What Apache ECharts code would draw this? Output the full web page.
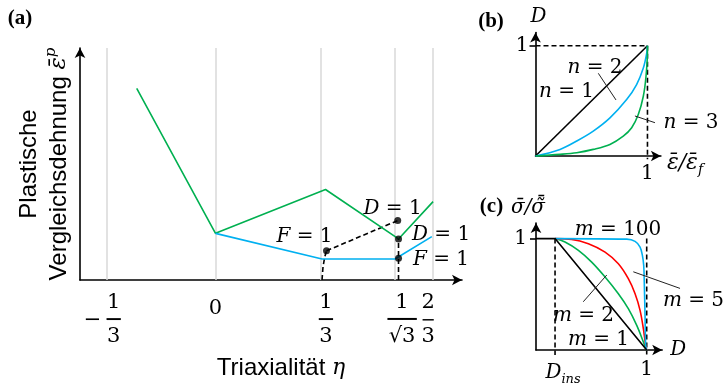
<!DOCTYPE html>
<html>
<head>
<meta charset="utf-8">
<script src="https://cdn.jsdelivr.net/npm/echarts@6/dist/echarts.min.js"></script>
<style>html,body{margin:0;padding:0;background:#fff}#chart{width:727px;height:383px}</style>
</head>
<body>
<div id="chart"></div>
<script>
// (a) Triaxialitaet eta / plastische Vergleichsdehnung (schematisch)
var etaTicks = [-0.339, 0, 0.3334, 0.5556, 0.678];
var greenEta = [-0.2466, 0, 0.3443, 0.5728, 0.681];
var greenEps = [82.6, 20.1, 39.0, 17.7, 33.8];
var blueEta = [0, 0.3334, 0.5618, 0.677];
var blueEps = [20.1, 9.05, 9.05, 18.7];
var pathCurveEta = [0.3334, 0.3365, 0.342, 0.3474];
var pathCurveEps = [0, 5.7, 10.0, 12.6];
var pathLineEta = [0.3474, 0.5703];
var pathLineEps = [12.6, 25.6];
var pathVertEta = [0.5728, 0.5728];
var pathVertEps = [0, 17.7];
var dotsEta = [0.3474, 0.5703, 0.5728, 0.5728];
var dotsEps = [12.6, 25.6, 17.7, 9.4];

// (b) D ueber eps/eps_f
var bN1x = [0, 1];
var bN1 = [0, 1];
var bN2x = [0, 0.219, 0.368, 0.516, 0.665, 0.814, 0.903, 0.963, 0.993, 1];
var bN2 = [0, 0.06, 0.136, 0.226, 0.346, 0.512, 0.648, 0.798, 0.93, 1];
var bN3x = [0, 0.219, 0.368, 0.516, 0.665, 0.784, 0.859, 0.918, 0.963, 0.987, 1, 1];
var bN3 = [0, 0.015, 0.03, 0.06, 0.105, 0.18, 0.256, 0.376, 0.542, 0.723, 0.96, 1];
var bGuideX = [0, 1, 1];
var bGuideY = [1, 1, -0.03];
var bLeadN2x = [0.561, 0.719];
var bLeadN2y = [0.75, 0.508];
var bLeadN3x = [0.888, 1.067];
var bLeadN3y = [0.363, 0.302];

// (c) sigma/sigma~ ueber D
var dIns = 0.172;
var cM1x = [0, 0.172, 1];
var cM1 = [1, 1, 0];
var cM2x = [0.172, 0.262, 0.383, 0.503, 0.624, 0.744, 0.834, 0.91, 0.97, 0.991, 1];
var cM2 = [1, 0.969, 0.894, 0.789, 0.655, 0.505, 0.371, 0.221, 0.072, 0.012, 0];
var cM5x = [0.172, 0.323, 0.473, 0.624, 0.744, 0.834, 0.895, 0.94, 0.97, 0.991, 1];
var cM5 = [1, 0.993, 0.954, 0.879, 0.774, 0.64, 0.505, 0.356, 0.19, 0.04, 0];
var cM100x = [0.172, 0.82, 0.895, 0.94, 0.961, 0.973, 0.978, 0.985, 0.991, 1];
var cM100 = [1, 0.995, 0.975, 0.924, 0.849, 0.759, 0.61, 0.31, 0.04, 0];
var cGuideInsX = [0.172, 0.172];
var cGuideInsY = [1, -0.045];
var cGuideOneX = [1, 1];
var cGuideOneY = [1, -0.04];
var cLeadM2x = [0.427, 0.639];
var cLeadM2y = [0.433, 0.673];
var cLeadM5x = [0.879, 1.301];
var cLeadM5y = [0.702, 0.553];

var MATH = 'DejaVu Serif';
var SANS = 'Liberation Sans';
var MONO = 'DejaVu Sans Mono';
var GREEN = '#00b050', BLUE = '#00b0f0', RED = '#ff0000';

function zip(a, b) {
	var out = [];
	for (var i = 0; i < a.length; i++) out.push([a[i], b[i]]);
	return out;
}

function line(xi, xs, ys, color, extra) {
	var s = {
		type: 'line', xAxisIndex: xi, yAxisIndex: xi, data: zip(xs, ys),
		symbol: 'none', clip: false, silent: true, z: 3,
		lineStyle: {color: color, width: 1.6}
	};
	for (var k in extra) s[k] = extra[k];
	return s;
}

function dashed(xi, xs, ys) {
	return line(xi, xs, ys, '#000', {lineStyle: {color: '#000', width: 1.6, type: [5, 3]}, z: 2});
}

function leader(xi, xs, ys) {
	return line(xi, xs, ys, '#222', {lineStyle: {color: '#222', width: 1}});
}

var tokenStyles = {
	i: {fontFamily: MATH, fontSize: 20, fontStyle: 'italic', color: '#000', fill: '#000'},
	r: {fontFamily: MATH, fontSize: 20, color: '#000', fill: '#000'},
	s: {fontFamily: MATH, fontSize: 13, fontStyle: 'italic', color: '#000', fill: '#000', verticalAlign: 'bottom', lineHeight: 26}
};

function txt(x, y, text) {
	return {
		type: 'text', x: x, y: y, z: 100, silent: true,
		style: {text: text, fontFamily: MATH, fontSize: 20, fill: '#000', align: 'center', verticalAlign: 'middle', rich: tokenStyles}
	};
}

function panel(x, y, text) {
	return {
		type: 'text', x: x, y: y, z: 100, silent: true,
		style: {text: text, fontFamily: 'Liberation Serif', fontWeight: 'bold', fontSize: 21, fill: '#000', align: 'center', verticalAlign: 'middle'}
	};
}

// Brueche unter der eta-Achse, Bruchstrich als Linienzeichen
var fracRich = {
	n: {fontFamily: MATH, fontSize: 21, width: 18, align: 'center', lineHeight: 28, color: '#000'},
	d: {fontFamily: MATH, fontSize: 21, width: 18, align: 'center', lineHeight: 24, color: '#000'},
	b: {fontFamily: MONO, fontSize: 23, width: 18, align: 'center', lineHeight: 8, color: '#000'},
	m: {fontFamily: MATH, fontSize: 21, width: 18, align: 'left', lineHeight: 8, color: '#000'},
	g: {width: 3, lineHeight: 8},
	sm: {width: 21, lineHeight: 8},
	sr: {width: 8, lineHeight: 8},
	z: {fontFamily: MATH, fontSize: 21, lineHeight: 39, color: '#000'},
	wn: {fontFamily: MATH, fontSize: 21, width: 30, align: 'center', lineHeight: 28, color: '#000'},
	wd: {fontFamily: MATH, fontSize: 21, width: 30, align: 'center', lineHeight: 24, color: '#000'},
	wb: {fontFamily: MONO, fontSize: 24, width: 30, align: 'center', lineHeight: 8, color: '#000'},
	sl: {width: 18, lineHeight: 8},
	tn: {fontFamily: MATH, fontSize: 21, width: 15, align: 'center', lineHeight: 28, color: '#000'},
	td: {fontFamily: MATH, fontSize: 21, width: 15, align: 'center', lineHeight: 24, color: '#000'},
	tb: {fontFamily: MONO, fontSize: 18, width: 15, align: 'center', lineHeight: 8, color: '#000'}
};
var etaTickText = [
	'{sm| }{n|1}{sr| }\n{m|−}{g| }{b|─}{sr| }\n{sm| }{d|3}{sr| }',
	'{z|0}',
	'{sr| }{n|1}\n{sr| }{b|─}\n{sr| }{d|3}',
	'{sl| }{wn|1}\n{sl| }{wb|──}\n{sl| }{wd|√3}',
	'{tn|2}{sr| }\n{tb|─}{sr| }\n{td|3}{sr| }'
];

function etaLabel(v) {
	for (var i = 0; i < etaTicks.length; i++) {
		if (Math.abs(v - etaTicks[i]) < 1e-6) return etaTickText[i];
	}
	return '';
}

var arrowLine = {symbol: ['none', 'arrow'], symbolSize: [8, 10], onZero: false, lineStyle: {color: '#000', width: 1.6}};
var smoothCurve = {smooth: 0.35};
var hidden = {show: false};

function overlayAxis(gi, min, max) {
	return {gridIndex: gi, type: 'value', min: min, max: max, show: false};
}

var option = {
	animation: false,
	backgroundColor: '#fff',
	grid: [
		{left: 80, top: 48, width: 382, height: 232, outerBoundsMode: 'none'},
		{left: 535.5, top: 32.5, width: 125.4, height: 123.5, outerBoundsMode: 'none'},
		{left: 536, top: 223, width: 126.2, height: 127, outerBoundsMode: 'none'},
		// unsichtbare Ueberlagerungen mit gleichem Massstab, damit nichts am Gitterrand abgeschnitten wird
		{left: 535.5, top: 32.5, width: 125.4, height: 133.5, outerBoundsMode: 'none'},
		{left: 536, top: 223, width: 154.98, height: 137, outerBoundsMode: 'none'}
	],
	xAxis: [
		{
			gridIndex: 0, type: 'value', min: -0.4241, max: 0.7715,
			axisLine: arrowLine, axisTick: hidden, splitLine: hidden,
			axisLabel: {customValues: etaTicks, formatter: etaLabel, rich: fracRich, margin: 9, color: '#000'},
			name: '{t|Triaxialität }{e|η}', nameLocation: 'middle', nameGap: 76,
			nameTextStyle: {
				color: '#000', padding: [0, 0, 0, 20],
				rich: {
					t: {fontFamily: SANS, fontSize: 24, color: '#000'},
					e: {fontFamily: MATH, fontSize: 22, fontStyle: 'italic', color: '#000'}
				}
			}
		},
		{
			gridIndex: 1, type: 'value', min: 0, max: 1.12,
			axisLine: arrowLine, axisTick: hidden, splitLine: hidden,
			axisLabel: {customValues: [1], formatter: '1', margin: 8, fontFamily: MATH, fontSize: 20, color: '#000'},
			name: '{i|ε̄/ε̄}{s|f}', nameLocation: 'end', nameGap: 6,
			nameTextStyle: {
				color: '#000', padding: [14, 0, 0, 0],
				rich: {
					i: {fontFamily: MATH, fontSize: 22, fontStyle: 'italic', color: '#000'},
					s: {fontFamily: MATH, fontSize: 14, fontStyle: 'italic', color: '#000', verticalAlign: 'bottom', lineHeight: 28}
				}
			}
		},
		{
			gridIndex: 2, type: 'value', min: 0, max: 1.14,
			axisLine: arrowLine, axisTick: hidden, splitLine: hidden,
			axisLabel: {
				customValues: [dIns, 1], margin: 10, fontFamily: MATH, fontSize: 20, color: '#000',
				formatter: function (v) { return v < 0.5 ? '{sp| }{i|D}{s|ins}' : '1'; },
				rich: {
					sp: {width: 16},
					i: tokenStyles.i,
					s: tokenStyles.s
				}
			},
			name: '{i|D}', nameLocation: 'end', nameGap: 8,
			nameTextStyle: {color: '#000', rich: tokenStyles}
		},
		overlayAxis(3, 0, 1.12),
		overlayAxis(4, 0, 1.4)
	],
	yAxis: [
		{
			gridIndex: 0, type: 'value', min: 0, max: 100,
			axisLine: arrowLine, axisTick: hidden, splitLine: hidden, axisLabel: hidden,
			name: 'Plastische\nVergleichsdehnung {e|ε̄}{p|p}', nameLocation: 'middle', nameRotate: 90, nameGap: 6,
			nameTextStyle: {
				fontFamily: SANS, fontSize: 24, lineHeight: 30, color: '#000',
				rich: {
					e: {fontFamily: MATH, fontSize: 23, fontStyle: 'italic', lineHeight: 30, color: '#000'},
					p: {fontFamily: MATH, fontSize: 15, fontStyle: 'italic', lineHeight: 30, verticalAlign: 'top', color: '#000'}
				}
			}
		},
		{
			gridIndex: 1, type: 'value', min: 0, max: 1.12,
			axisLine: arrowLine, splitLine: hidden,
			axisTick: {customValues: [1], length: 6, lineStyle: {color: '#000', width: 1.6}},
			axisLabel: {customValues: [1], formatter: '1', margin: 7, fontFamily: MATH, fontSize: 20, color: '#000'},
			name: '{i|D}', nameLocation: 'end', nameGap: 6,
			nameTextStyle: {color: '#000', padding: [0, 0, 0, 6], rich: tokenStyles}
		},
		{
			gridIndex: 2, type: 'value', min: 0, max: 1.14,
			axisLine: arrowLine, splitLine: hidden,
			axisTick: {customValues: [1], length: 6, lineStyle: {color: '#000', width: 1.6}},
			axisLabel: {customValues: [1], formatter: '1', margin: 9, fontFamily: MATH, fontSize: 20, color: '#000'},
			name: '{i|σ̄/σ̃̄}', nameLocation: 'end', nameGap: 5,
			nameTextStyle: {color: '#000', padding: [0, 16, 0, 0], rich: tokenStyles}
		},
		overlayAxis(3, -0.0907, 1.12),
		overlayAxis(4, -0.0898, 1.14)
	],
	series: [
		// (a)
		line(0, greenEta, greenEps, GREEN, {
			markLine: {
				silent: true, symbol: 'none', z: 1, animation: false,
				label: hidden,
				lineStyle: {color: '#d9d9d9', type: 'solid', width: 1.5},
				data: etaTicks.map(function (v) { return {xAxis: v}; })
			}
		}),
		line(0, blueEta, blueEps, BLUE),
		dashed(0, pathCurveEta, pathCurveEps),
		dashed(0, pathLineEta, pathLineEps),
		dashed(0, pathVertEta, pathVertEps),
		{
			type: 'scatter', xAxisIndex: 0, yAxisIndex: 0, data: zip(dotsEta, dotsEps),
			symbolSize: 7, itemStyle: {color: '#000'}, z: 5, silent: true
		},
		// (b)
		dashed(3, bGuideX, bGuideY),
		line(1, bN1x, bN1, '#000'),
		line(1, bN2x, bN2, BLUE, smoothCurve),
		line(1, bN3x, bN3, GREEN, smoothCurve),
		leader(1, bLeadN2x, bLeadN2y),
		leader(1, bLeadN3x, bLeadN3y),
		// (c)
		dashed(4, cGuideInsX, cGuideInsY),
		dashed(4, cGuideOneX, cGuideOneY),
		line(2, cM2x, cM2, GREEN, smoothCurve),
		line(2, cM5x, cM5, RED, smoothCurve),
		line(2, cM100x, cM100, BLUE, smoothCurve),
		line(2, cM1x, cM1, '#000'),
		leader(2, cLeadM2x, cLeadM2y),
		leader(4, cLeadM5x, cLeadM5y)
	],
	graphic: [
		panel(20, 19, '(a)'),
		panel(491, 21.5, '(b)'),
		panel(491.5, 207, '(c)'),
		txt(304.5, 236.5, '{i|F} = 1'),
		txt(392.5, 209, '{i|D} = 1'),
		txt(441, 235, '{i|D} = 1'),
		txt(441, 260, '{i|F} = 1'),
		txt(595, 67.5, '{i|n} = 2'),
		txt(566.5, 92, '{i|n} = 1'),
		txt(691, 123, '{i|n} = 3'),
		txt(618, 229.5, '{i|m} = 100'),
		txt(693.5, 300.5, '{i|m} = 5'),
		txt(583.5, 315.5, '{i|m} = 2'),
		txt(598.5, 339.5, '{i|m} = 1')
	]
};

var myChart = echarts.init(document.getElementById('chart'), null, {renderer: 'canvas'});
myChart.setOption(option);
</script>
</body>
</html>
